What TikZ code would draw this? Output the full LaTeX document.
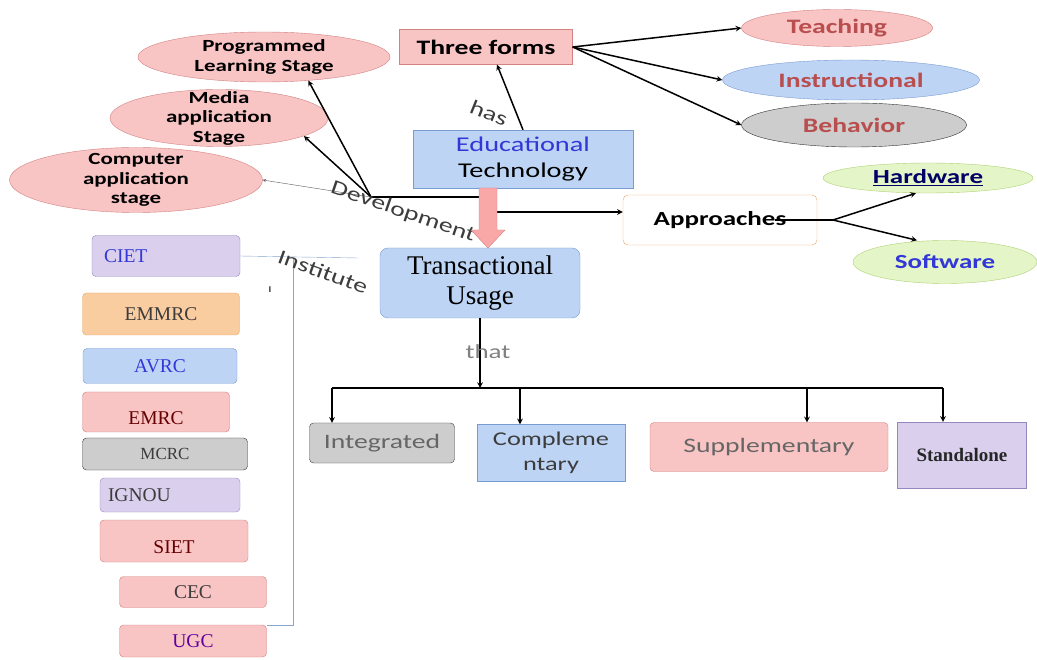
\documentclass[tikz,border=0pt]{standalone}
\usepackage{fontspec}
\setmainfont{Carlito}[FakeStretch=1.35]
\newfontfamily\serifface{Liberation Serif}
\usetikzlibrary{arrows, shapes, positioning, calc}

\definecolor{pinkfill}{RGB}{248,196,196}
\definecolor{pinkline}{RGB}{210,130,128}
\definecolor{bluefill}{RGB}{190,212,245}
\definecolor{blueline}{RGB}{120,155,210}
\definecolor{grayfill}{RGB}{205,205,205}
\definecolor{purplefill}{RGB}{218,208,238}
\definecolor{purpleline}{RGB}{150,135,190}
\definecolor{orangefill}{RGB}{250,205,160}
\definecolor{orangeline}{RGB}{235,165,100}
\definecolor{greenfill}{RGB}{228,245,200}
\definecolor{greenline}{RGB}{175,210,115}
\definecolor{redtext}{RGB}{185,78,78}
\definecolor{bluetext}{RGB}{50,55,215}
\definecolor{darktext}{RGB}{60,60,60}
\definecolor{instline}{RGB}{135,165,205}

\begin{document}
\begin{tikzpicture}[>=stealth, x=1pt, y=-1pt,
    stage/.style={ellipse, draw=pinkline, fill=pinkfill, align=center, inner xsep=0pt, inner ysep=-12pt, font=\bfseries\fontsize{17}{19.5}\selectfont},
    form/.style={ellipse, inner sep=0pt, text=redtext, font=\bfseries\fontsize{20.5}{20.5}\selectfont},
    ware/.style={ellipse, draw=greenline, fill=greenfill, inner sep=0pt, font=\bfseries\fontsize{20}{20}\selectfont},
    inst/.style={rectangle, rounded corners=4pt, inner sep=0pt, align=center, font=\serifface\fontsize{19.5}{20}\selectfont},
    kind/.style={rectangle, inner sep=0pt, align=center, text=gray!80!black, font=\fontsize{20.5}{25}\selectfont},
    link/.style={->, line width=1.5pt},
    lbl/.style={text=darktext, font=\fontsize{20.5}{20.5}\selectfont}]
\useasboundingbox (0,0) rectangle (1037,660);

\node[stage, minimum width=252, minimum height=50] (prog) at (264,57) {Programmed\\Learning Stage};
\node[stage, minimum width=218, minimum height=57] (media) at (219,118) {Media\\application\\Stage};
\node[stage, minimum width=253, minimum height=65] (comp) at (136,180) {Computer\\application\\stage};
\node[draw=pinkline, fill=pinkfill, minimum width=173, minimum height=35, font=\bfseries\fontsize{20.5}{20.5}\selectfont] (three) at (486,47) {Three forms};
\node[form, draw=pinkline, fill=pinkfill, minimum width=191, minimum height=37] (teach) at (837,28) {Teaching};
\node[form, draw=blueline, fill=bluefill, minimum width=257, minimum height=40] (instr) at (851,80) {Instructional};
\node[form, draw=black!80, fill=grayfill, minimum width=225, minimum height=44] (behav) at (854,125) {Behavior};
\node[draw=blueline, fill=bluefill, minimum width=220, minimum height=58, align=center, font=\fontsize{21}{26}\selectfont] (edu) at (523,159) {\textcolor{bluetext}{Educational}\\Technology};
\node[ware, minimum width=210, minimum height=30, text=black!60!blue] (hard) at (928,178) {\underline{Hardware}};
\node[ware, minimum width=184, minimum height=43, text=bluetext] (soft) at (945,262) {Software};
\node[draw=orangeline, fill=white, rounded corners=5pt, minimum width=194, minimum height=50, font=\bfseries\fontsize{20}{20}\selectfont] (appr) at (720,220) {Approaches};

\coordinate (dev) at (371,197);
\coordinate (bendA) at (488,197);
\coordinate (bendB) at (488,212);
\draw[link] (dev) -- (prog.-28);
\draw[link] (dev) -- (media.-12);
\draw[->, gray!70!black] (dev) -- (comp.east);
\draw[link] (dev) -- (bendA) -- (bendB) -- (appr.west |- bendB);
\node[lbl, rotate=-19] (devlbl) at (403,212) {Development};

\node[draw=blueline, fill=bluefill, rounded corners=8pt, minimum width=200, minimum height=70, align=center, font=\serifface\fontsize{27}{30}\selectfont] (trans) at (480,283) {Transactional\\Usage};
\draw[draw=pinkline, fill=pinkfill!85!red] (479,188) -- (497,188) -- (497,230) -- (505,230) -- (488,248) -- (471,230) -- (479,230) -- cycle;

\draw[link] (edu.north) -- ([xshift=11]three.south);
\node[lbl, rotate=-22] (haslbl) at (489,113) {has};
\foreach \f in {teach, instr, behav}
    \draw[link] (three.east) -- (\f.west);

\coordinate (fork) at (833,220);
\draw[line width=1.5pt] ([xshift=55]appr.center) -- (fork);
\draw[link] (fork) -- ([xshift=-12]hard.south);
\draw[link] (fork) -- ([xshift=-28]soft.north);

\node[inst, draw=purpleline, fill=purplefill, minimum width=148, minimum height=41, text width=124, align=left, text=bluetext] (ciet) at (166,256) {CIET};
\node[inst, draw=orangeline, fill=orangefill, minimum width=157, minimum height=42, text=darktext] (emmrc) at (161,314) {EMMRC};
\node[inst, draw=blueline, fill=bluefill, minimum width=154, minimum height=35, text=bluetext] (avrc) at (160,366) {AVRC};
\node[inst, draw=pinkline, fill=pinkfill, minimum width=147, minimum height=40, text=red!40!black] (emrc) at (156,412) {\strut\\[-9pt]EMRC};
\node[inst, draw=black!80, fill=grayfill, minimum width=165, minimum height=32, text=darktext, font=\serifface\fontsize{17}{17}\selectfont] (mcrc) at (165,454) {MCRC};
\node[inst, draw=purpleline, fill=purplefill, minimum width=140, minimum height=34, text width=124, align=left, text=darktext] (ignou) at (170,495) {IGNOU};
\node[inst, draw=pinkline, fill=pinkfill, minimum width=148, minimum height=42, text=red!40!black] (siet) at (174,541) {\strut\\[-9pt]SIET};
\node[inst, draw=pinkline, fill=pinkfill, minimum width=147, minimum height=31, text=darktext] (cec) at (193,592) {CEC};
\node[inst, draw=pinkline, fill=pinkfill, minimum width=147, minimum height=32, text=blue!50!purple] (ugc) at (193,641) {UGC};

\coordinate (instend) at (358,258);
\coordinate (insttop) at (293,258);
\draw[instline] (ciet.east) -- (instend);
\draw[instline] (insttop) |- (ugc.north east);
\node[lbl, rotate=-20] (instlbl) at (323,272) {Institute};
\node[lbl, font=\fontsize{12}{12}\selectfont] (instmark) at (270,290) {ı};

\node[kind, draw=black!75, fill=grayfill, rounded corners=4pt, minimum width=145, minimum height=40] (integ) at (382,443) {Integrated};
\node[kind, draw=blueline, fill=bluefill, minimum width=148, minimum height=57, text=darktext, font=\fontsize{19.5}{25}\selectfont] (compl) at (551,453) {Compleme\\ntary};
\node[kind, draw=pinkline, fill=pinkfill, rounded corners=4pt, minimum width=238, minimum height=49] (suppl) at (769,447) {Supplementary};
\node[kind, draw=purpleline, fill=purplefill, minimum width=129, minimum height=66, text=black!85, font=\serifface\bfseries\fontsize{19}{19}\selectfont] (stand) at (962,455) {Standalone};

\coordinate (split) at (480,388);
\draw[link] (trans.south) -- (split);
\node[text=gray, font=\fontsize{20}{20}\selectfont] (thatlbl) at (488,352) {that};
\draw[line width=1.5pt] ([xshift=-50]integ.north |- split) -- ([xshift=-19]stand.north |- split);
\foreach \b/\d in {integ/-50, compl/-31, suppl/38, stand/-19}
    \draw[link] ([xshift=\d]\b.north |- split) -- ([xshift=\d]\b.north);
\end{tikzpicture}
\end{document}
